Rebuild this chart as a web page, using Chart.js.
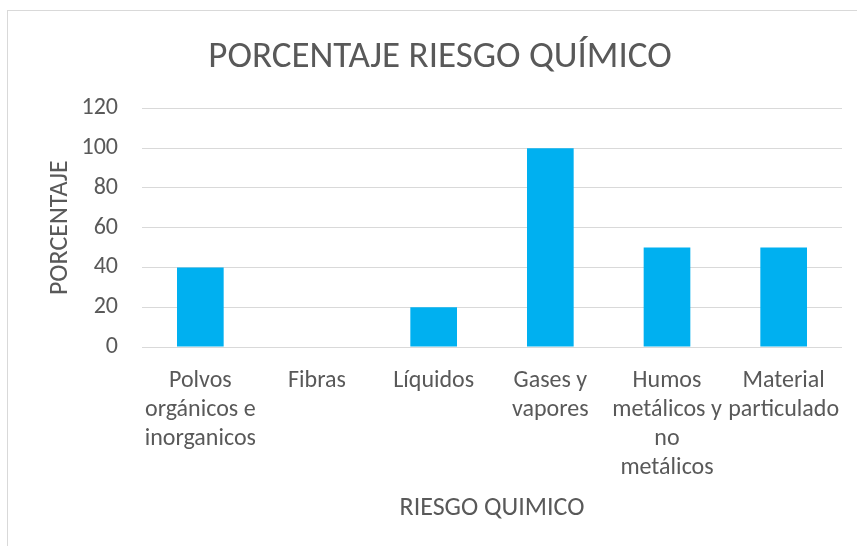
<!DOCTYPE html>
<html>
<head>
<meta charset="utf-8">
<script src="https://cdn.jsdelivr.net/npm/chart.js@4"></script>
<style>
    html, body { margin: 0; padding: 0; background: #ffffff; overflow: hidden; }
    #frame {
        position: absolute; left: 7px; top: 10px; width: 900px; height: 600px;
        border-left: 1px solid #d9d9d9; border-top: 1px solid #d9d9d9;
    }
    #wrap { position: absolute; left: 0; top: 0; width: 857px; height: 546px; }
</style>
</head>
<body>
<div id="frame"></div>
<div id="wrap"><canvas id="riesgo-chart" width="857" height="546"></canvas></div>
<script>
// categorias del eje X (una linea por elemento)
const categories = [
    ['Polvos', 'orgánicos e', 'inorganicos'],
    ['Fibras'],
    ['Líquidos'],
    ['Gases y', 'vapores'],
    ['Humos', 'metálicos y', 'no', 'metálicos'],
    ['Material', 'particulado']
];
const values = [40, 0, 20, 100, 50, 50];
const yTicks = [0, 20, 40, 60, 80, 100, 120];

const fontFamily = "Carlito, 'Liberation Sans Narrow', 'Open Sans', sans-serif";
const grey = '#595959';

let config = {
    type: 'bar',
    data: {
        labels: categories,
        datasets: [
            {
                label: 'Porcentaje',
                data: values,
                backgroundColor: '#00b0f0',
                categoryPercentage: 1,
                barPercentage: 0.4
            }
        ]
    },
    options: {
        responsive: false,
        animation: false,
        layout: {
            padding: {left: 38, right: 15, top: 36, bottom: 22}
        },
        scales: {
            x: {
                grid: {display: false},
                border: {display: false},
                ticks: {
                    color: grey,
                    font: {family: fontFamily, size: 24, lineHeight: 1.22},
                    maxRotation: 0,
                    autoSkip: false,
                    padding: 11
                },
                title: {
                    display: true,
                    text: 'RIESGO QUIMICO',
                    color: grey,
                    font: {family: fontFamily, size: 26},
                    padding: {top: 6, bottom: 0}
                },
                afterFit: function(scale){
                    scale.height = 546 - 22 - 347;
                }
            },
            y: {
                min: 0,
                max: 120,
                afterBuildTicks: function(scale){
                    scale.ticks = yTicks.map(v => ({value: v}));
                },
                grid: {color: '#d9d9d9', lineWidth: 1, drawTicks: false},
                border: {display: false},
                ticks: {
                    color: grey,
                    font: {family: fontFamily, size: 24},
                    padding: 24
                },
                title: {
                    display: true,
                    text: 'PORCENTAJE',
                    color: grey,
                    font: {family: fontFamily, size: 26},
                    padding: {top: 7, bottom: 0}
                },
                afterFit: function(scale){
                    scale.width = 142 - 38;
                }
            }
        },
        plugins: {
            legend: {display: false},
            tooltip: {enabled: false},
            title: {
                display: true,
                text: 'PORCENTAJE RIESGO QUÍMICO',
                color: grey,
                font: {family: fontFamily, size: 37, weight: 'normal'},
                padding: {top: 0, bottom: 28}
            }
        }
    }
};

new Chart(document.querySelector('#riesgo-chart'), config);
</script>
</body>
</html>
